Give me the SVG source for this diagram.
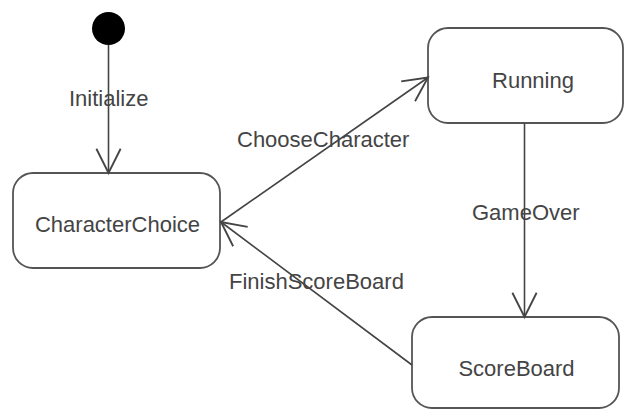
<svg xmlns="http://www.w3.org/2000/svg" width="625" height="409" viewBox="0 0 625 409">
  <style>
    .state { fill: #ffffff; stroke: #555555; stroke-width: 1.8; }
    .name { font-family: "Liberation Sans", Arial, sans-serif; font-size: 22px; fill: #444444; text-anchor: middle; }
    .label { font-family: "Liberation Sans", Arial, sans-serif; font-size: 22px; fill: #444444; }
    .edge { fill: none; stroke: #444444; stroke-width: 1.6; }
  </style>
  <defs>
    <marker id="open-arrow" markerUnits="userSpaceOnUse" markerWidth="30" markerHeight="30" viewBox="-24 -13 26 26" refX="0" refY="0" orient="auto">
      <path d="M-21,-10.5 L0,0 L-21,10.5" fill="none" stroke="#444444" stroke-width="1.6"/>
    </marker>
  </defs>
  <rect width="625" height="409" fill="#ffffff"/>

  <g id="initial">
    <circle cx="108.5" cy="28.5" r="16.5" fill="#000000"/>
  </g>

  <g id="CharacterChoice">
    <rect class="state" x="13" y="173" width="207" height="95" rx="20" ry="20"/>
    <text class="name" x="117.5" y="232">CharacterChoice</text>
  </g>

  <g id="Running">
    <rect class="state" x="428" y="28" width="195" height="95" rx="20" ry="20"/>
    <text class="name" x="533" y="88">Running</text>
  </g>

  <g id="ScoreBoard">
    <rect class="state" x="412" y="317" width="207" height="91" rx="20" ry="20"/>
    <text class="name" x="516.5" y="376">ScoreBoard</text>
  </g>

  <g id="connectors">
    <line class="edge" x1="108.5" y1="45" x2="108.5" y2="173" marker-end="url(#open-arrow)"/>
    <line class="edge" x1="221" y1="222" x2="428" y2="77.5" marker-end="url(#open-arrow)"/>
    <line class="edge" x1="524.5" y1="123" x2="524.5" y2="317" marker-end="url(#open-arrow)"/>
    <line class="edge" x1="412" y1="365" x2="221" y2="222" marker-end="url(#open-arrow)"/>
    <text class="label" x="69" y="106">Initialize</text>
    <text class="label" x="237" y="147">ChooseCharacter</text>
    <text class="label" x="472" y="220">GameOver</text>
    <text class="label" x="229" y="289">FinishScoreBoard</text>
  </g>
</svg>
